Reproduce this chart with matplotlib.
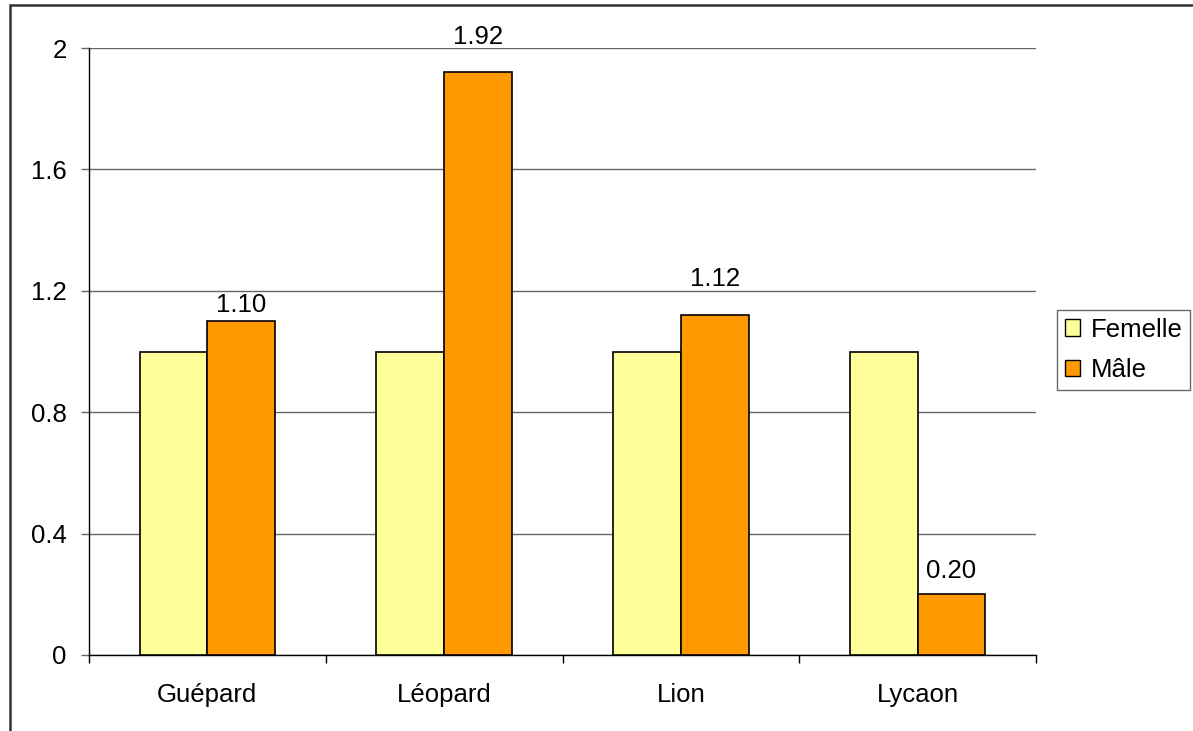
import matplotlib
matplotlib.use("Agg")
import matplotlib.pyplot as plt
from matplotlib.patches import Rectangle
import numpy as np

plt.rcParams['font.family'] = ['Liberation Sans', 'DejaVu Sans']

categories = ["Guépard", "Léopard", "Lion", "Lycaon"]
femelle = [1.0, 1.0, 1.0, 1.0]
male = [1.10, 1.92, 1.12, 0.20]
male_labels = ["1.10", "1.92", "1.12", "0.20"]
label_offsets_px = [16, 35, 36, 23]
yticks = [0, 0.4, 0.8, 1.2, 1.6, 2.0]
ytick_labels = ["0", "0.4", "0.8", "1.2", "1.6", "2"]

W, H, DPI = 1193, 731, 100
FS = 18.5
fig = plt.figure(figsize=(W / DPI, H / DPI), dpi=DPI)
ax = fig.add_axes([89 / W, 1 - 655 / H, (1036 - 89) / W, (655 - 48) / H])

x = np.arange(len(categories))
bw = 1 / 3.5
ax.bar(x - bw / 2, femelle, bw, color='#FFFF99', edgecolor='black', linewidth=1.2, zorder=3)
ax.bar(x + bw / 2, male, bw, color='#FF9900', edgecolor='black', linewidth=1.2, zorder=3)

for xi, v, lab, off in zip(x, male, male_labels, label_offsets_px):
    ax.annotate(lab, (xi + bw / 2, v), xytext=(0, off * 0.72), textcoords='offset points',
                ha='center', va='center', fontsize=FS, color='black')

ax.set_xlim(-0.5, 3.5)
ax.set_ylim(0, 2.0)
ax.set_yticks(yticks)
ax.set_yticklabels(ytick_labels, fontsize=FS)
ax.yaxis.grid(True, color='#666666', linewidth=1, zorder=0)
ax.set_axisbelow(True)

ax.set_xticks(x)
ax.set_xticklabels(categories, fontsize=FS)
ax.set_xticks(np.arange(-0.5, 4, 1), minor=True)
ax.tick_params(axis='x', which='major', length=0, pad=20)
ax.tick_params(axis='x', which='minor', length=6, width=1, direction='out', color='black')
ax.tick_params(axis='y', length=6, width=1, direction='out', color='#666666', pad=10)

for s in ['top', 'right']:
    ax.spines[s].set_visible(False)
ax.spines['left'].set_color('black')
ax.spines['bottom'].set_color('black')
ax.spines['left'].set_linewidth(1)
ax.spines['bottom'].set_linewidth(1)

handles = [Rectangle((0, 0), 1, 1, facecolor='#FFFF99', edgecolor='black', linewidth=1),
           Rectangle((0, 0), 1, 1, facecolor='#FF9900', edgecolor='black', linewidth=1)]
leg = fig.legend(handles, ["Femelle", "Mâle"], loc='center left',
                 bbox_to_anchor=(1057 / W, 1 - 350 / H), fontsize=FS,
                 frameon=True, fancybox=False, handlelength=0.6, handleheight=0.6,
                 handletextpad=0.4, borderpad=0.3, labelspacing=0.65, borderaxespad=0)
leg.get_frame().set_edgecolor('#444444')
leg.get_frame().set_linewidth(1)

border = Rectangle((10 / W, -0.1), 1.2, 1 - 5 / H + 0.1, transform=fig.transFigure,
                   fill=False, edgecolor='#333333', linewidth=1.8, clip_on=False)
fig.patches.append(border)

fig.savefig("out.png", dpi=DPI)
